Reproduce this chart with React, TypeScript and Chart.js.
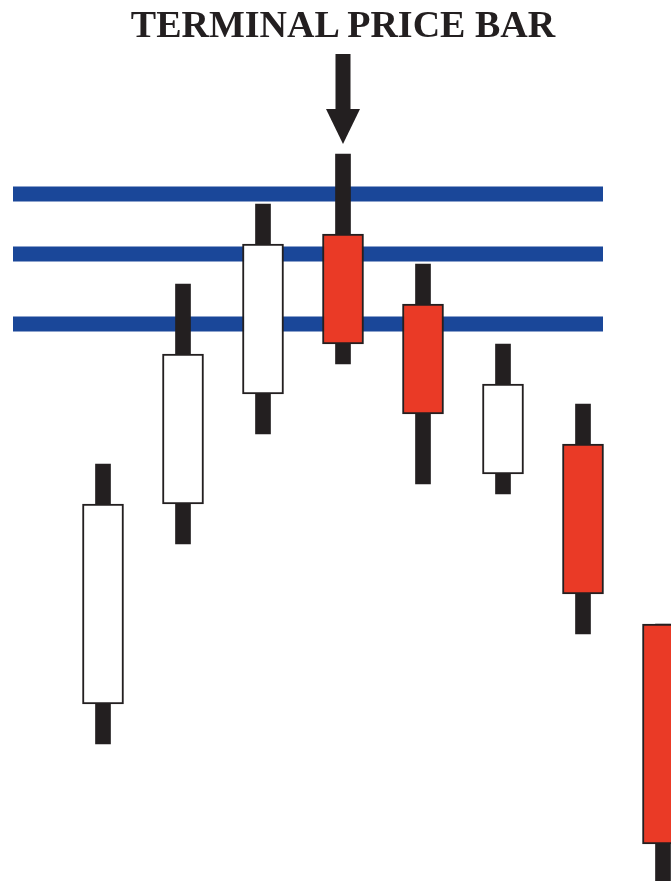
import React, { useEffect, useRef } from "react";
import { Chart, registerables } from "chart.js";

Chart.register(...registerables);

// Candle data (price units)
const barIndex = [0, 1, 2, 3, 4, 5, 6, 7];
const opens = [18, 38, 49, 65, 58, 41, 44, 26];
const highs = [42, 60, 68, 73, 62, 54, 48, 26];
const lows = [14, 34, 45, 52, 40, 39, 25, -1];
const closes = [38, 53, 64, 54, 47, 50, 29, 4];

// Horizontal resistance levels
const levels = [69, 63, 56];
const levelStart = -1.125;
const levelEnd = 6.25;

// Arrow marking the terminal price bar
const arrowIndex = 3;
const arrowTop = 83;
const arrowNeck = 77.5;
const arrowTip = 74;

const title = "TERMINAL PRICE BAR";

const DARK = "#231F20";
const RED = "#EA3A26";
const BLUE = "#1A4799";

const arrowPlugin = {
  id: "arrowPlugin",
  afterDatasetsDraw(chart: any) {
    const { ctx, scales } = chart;
    const x = scales.x.getPixelForValue(arrowIndex);
    const yTop = scales.y.getPixelForValue(arrowTop);
    const yNeck = scales.y.getPixelForValue(arrowNeck);
    const yTip = scales.y.getPixelForValue(arrowTip);
    ctx.save();
    ctx.fillStyle = DARK;
    ctx.fillRect(x - 7.5, yTop, 15, yNeck - yTop + 1);
    ctx.beginPath();
    ctx.moveTo(x - 17, yNeck);
    ctx.lineTo(x + 17, yNeck);
    ctx.lineTo(x, yTip);
    ctx.closePath();
    ctx.fill();
    ctx.restore();
  },
};

export default function App() {
  const ref = useRef<HTMLCanvasElement | null>(null);

  useEffect(() => {
    document.body.style.margin = "0";
    const canvas = ref.current!;
    const wickData = barIndex.map((i) => ({ x: i, y: [lows[i], highs[i]] }));
    const bodyData = barIndex.map((i) => ({ x: i, y: [opens[i], closes[i]] }));
    const bodyColors = barIndex.map((i) => (closes[i] >= opens[i] ? "#FFFFFF" : RED));

    const lineSets = levels.map((lv) => ({
      type: "line" as const,
      data: [
        { x: levelStart, y: lv },
        { x: levelEnd, y: lv },
      ],
      borderColor: BLUE,
      borderWidth: 15,
      borderCapStyle: "butt" as const,
      pointRadius: 0,
      order: 3,
    }));

    const chart = new Chart(canvas, {
      type: "bar",
      data: {
        datasets: [
          ...lineSets,
          {
            type: "bar",
            data: wickData as any,
            backgroundColor: DARK,
            borderWidth: 0,
            barThickness: 15,
            grouped: false,
            order: 2,
          } as any,
          {
            type: "bar",
            data: bodyData as any,
            backgroundColor: bodyColors,
            borderColor: DARK,
            borderWidth: 2,
            borderSkipped: false,
            barThickness: 41,
            grouped: false,
            order: 1,
          } as any,
        ],
      },
      options: {
        animation: false,
        responsive: false,
        devicePixelRatio: 1,
        layout: { padding: 0 },
        plugins: {
          legend: { display: false },
          tooltip: { enabled: false },
          title: { display: false },
        },
        scales: {
          x: {
            type: "linear",
            min: -1.2875,
            max: 7.1,
            offset: false,
            display: false,
          },
          y: {
            type: "linear",
            min: 0.3,
            max: 88.4,
            display: false,
          },
        },
      },
      plugins: [arrowPlugin],
    });
    return () => chart.destroy();
  }, []);

  return (
    <div style={{ position: "relative", width: 671, height: 881, overflow: "hidden", background: "#fff" }}>
      <canvas
        ref={ref}
        width={671}
        height={881}
        style={{ position: "absolute", left: 0, top: 0, width: 671, height: 881 }}
      />
      <div
        style={{
          position: "absolute",
          top: 5,
          left: 0,
          width: 686,
          textAlign: "center",
          fontFamily: "'Liberation Serif', 'Times New Roman', serif",
          fontWeight: "bold",
          fontSize: 38,
          lineHeight: "38px",
          color: DARK,
          whiteSpace: "nowrap",
        }}
      >
        {title}
      </div>
    </div>
  );
}
